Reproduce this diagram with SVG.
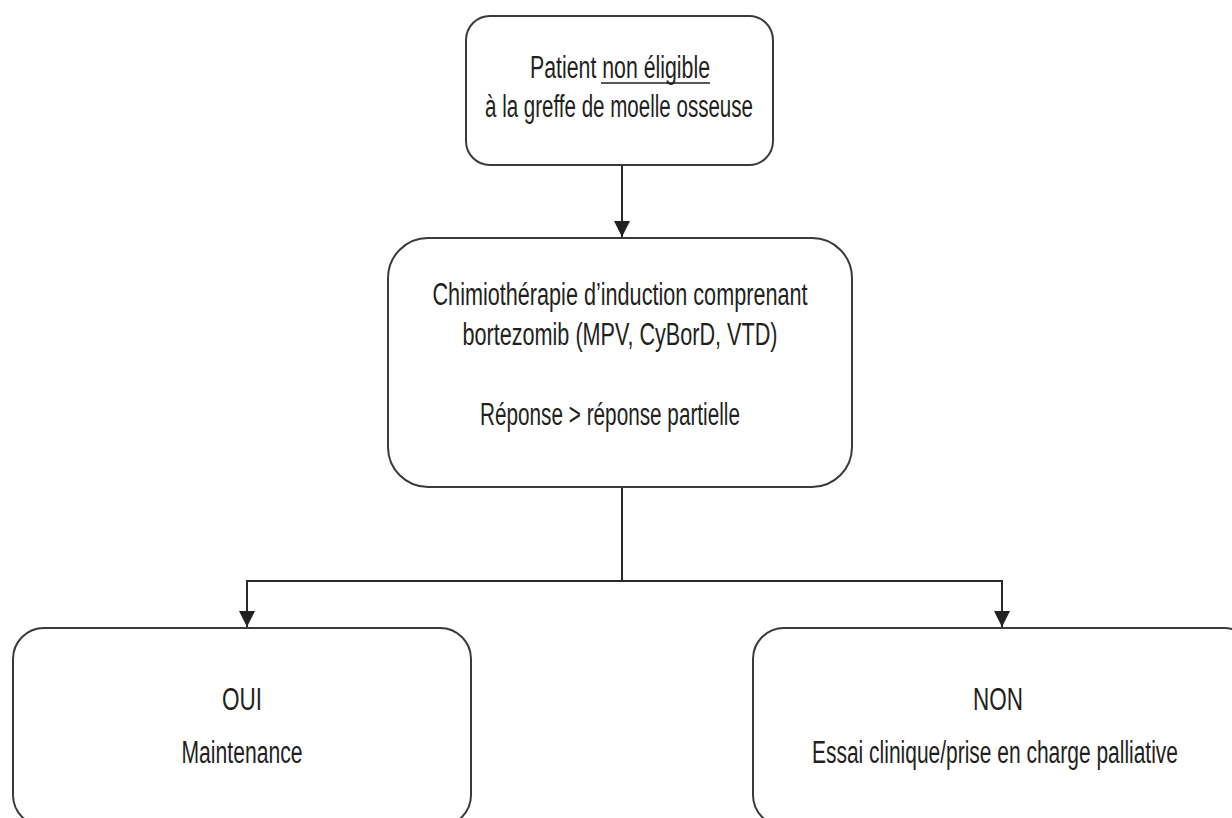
<svg xmlns="http://www.w3.org/2000/svg" width="1232" height="818" viewBox="0 0 1232 818">
<defs>
<style>
.box{fill:#fff;stroke:#3a3a3a;stroke-width:2}
.t{font-family:"Liberation Sans","DejaVu Sans",sans-serif;font-size:31px;fill:#231f20;text-anchor:middle}
.c{fill:none;stroke:#2a2a2a;stroke-width:2}
</style>
<marker id="ah" viewBox="0 0 10 10" refX="10" refY="5" markerWidth="16" markerHeight="22" markerUnits="userSpaceOnUse" orient="auto">
<path d="M0,0 L10,5 L0,10 Z" fill="#222"/>
</marker>
</defs>
<rect width="1232" height="818" fill="#fff"/>
<g id="connectors">
<line class="c" x1="622" y1="165" x2="622" y2="237" marker-end="url(#ah)"/>
<line class="c" x1="622" y1="487" x2="622" y2="581"/>
<line class="c" x1="246" y1="581" x2="1003" y2="581"/>
<line class="c" x1="247" y1="580" x2="247" y2="627" marker-end="url(#ah)"/>
<line class="c" x1="1002" y1="580" x2="1002" y2="627" marker-end="url(#ah)"/>
</g>
<g id="n1">
<rect class="box" x="466" y="16" width="307" height="149" rx="24" ry="24"/>
<text class="t" x="620" y="78" textLength="180" lengthAdjust="spacingAndGlyphs">Patient non éligible</text>
<line x1="601" y1="83" x2="710" y2="83" stroke="#231f20" stroke-width="1.5"/>
<text class="t" x="619" y="117" textLength="268" lengthAdjust="spacingAndGlyphs">à la greffe de moelle osseuse</text>
</g>
<g id="n2">
<rect class="box" x="388" y="238" width="464" height="249" rx="40" ry="40"/>
<text class="t" x="620" y="305" textLength="375" lengthAdjust="spacingAndGlyphs">Chimiothérapie d’induction comprenant</text>
<text class="t" x="620" y="345" textLength="315" lengthAdjust="spacingAndGlyphs">bortezomib (MPV, CyBorD, VTD)</text>
<text class="t" x="610" y="425" textLength="260" lengthAdjust="spacingAndGlyphs">Réponse &gt; réponse partielle</text>
</g>
<g id="n3">
<rect class="box" x="13" y="628" width="458" height="198" rx="31" ry="31"/>
<text class="t" x="242" y="710" textLength="40" lengthAdjust="spacingAndGlyphs">OUI</text>
<text class="t" x="242" y="763" textLength="121" lengthAdjust="spacingAndGlyphs">Maintenance</text>
</g>
<g id="n4">
<rect class="box" x="753" y="628" width="502" height="198" rx="31" ry="31"/>
<text class="t" x="998" y="710" textLength="50" lengthAdjust="spacingAndGlyphs">NON</text>
<text class="t" x="995" y="763" textLength="366" lengthAdjust="spacingAndGlyphs">Essai clinique/prise en charge palliative</text>
</g>
</svg>
